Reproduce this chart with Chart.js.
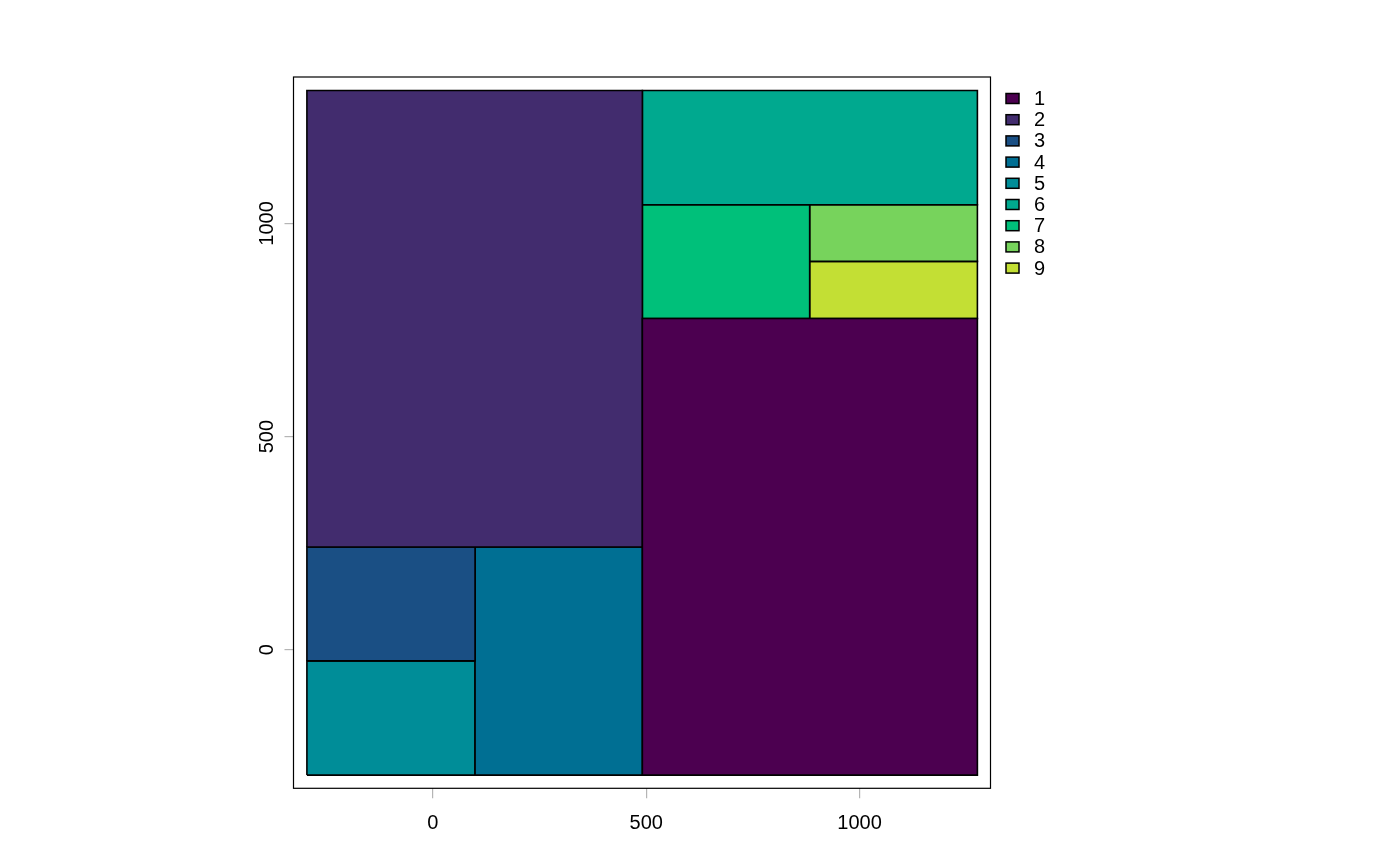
<!DOCTYPE html>
<html>
<head>
<meta charset="utf-8">
<script src="https://cdn.jsdelivr.net/npm/chart.js@4/dist/chart.umd.min.js"></script>
<style>
  html, body { margin: 0; padding: 0; background: #ffffff; }
  #wrap { width: 1400px; height: 866px; position: relative; }
</style>
</head>
<body>
<div id="wrap"><canvas id="c"></canvas></div>
<script>
// ---- data ----
const categories = ['1', '2', '3', '4', '5', '6', '7', '8', '9'];
const xStart = [491, -295, -295, 99, -295, 491, 491, 883, 883];
const xEnd   = [1276, 491, 99, 491, 99, 1276, 883, 1276, 1276];
const yStart = [-294, 241, -26, -294, -294, 1044, 777, 911, 777];
const yEnd   = [777, 1312, 241, 241, -26, 1312, 1044, 1044, 911];
const fillColors = ['#4C0050', '#422C6E', '#1A4F84', '#006F93', '#008D98',
                    '#00A98F', '#00C07A', '#77D35C', '#C3DF34'];
const xTickValues = [0, 500, 1000];
const yTickValues = [0, 500, 1000];
const xRange = [-326.4, 1306.7];
const yRange = [-325, 1343.5];

const FONT = '"Liberation Sans", Arial, Helvetica, sans-serif';

const datasets = categories.map((c, i) => ({
  label: c,
  data: [
    { x: xStart[i], y: yStart[i] },
    { x: xEnd[i],   y: yStart[i] },
    { x: xEnd[i],   y: yEnd[i] },
    { x: xStart[i], y: yEnd[i] },
    { x: xStart[i], y: yStart[i] }
  ],
  showLine: true,
  fill: 'shape',
  backgroundColor: fillColors[i],
  borderColor: '#000000',
  borderWidth: 1.6,
  pointRadius: 0,
  pointHoverRadius: 0,
  tension: 0
}));

const boxPlugin = {
  id: 'plotBox',
  beforeDatasetsDraw(chart) {
    const a = chart.chartArea, ctx = chart.ctx;
    ctx.save();
    ctx.strokeStyle = '#000000';
    ctx.lineWidth = 1.2;
    ctx.strokeRect(a.left, a.top, a.right - a.left, a.bottom - a.top);
    ctx.restore();
  }
};

const legendPlugin = {
  id: 'sideLegend',
  afterDraw(chart) {
    const ctx = chart.ctx;
    ctx.save();
    ctx.font = '20px ' + FONT;
    ctx.textBaseline = 'middle';
    ctx.textAlign = 'left';
    chart.data.datasets.forEach((ds, i) => {
      const cy = 98.5 + i * 21.2;
      ctx.fillStyle = ds.backgroundColor;
      ctx.fillRect(1006, cy - 5, 13, 10);
      ctx.strokeStyle = '#000000';
      ctx.lineWidth = 1.5;
      ctx.strokeRect(1006, cy - 5, 13, 10);
      ctx.fillStyle = '#000000';
      ctx.fillText(ds.label, 1034, cy + 1);
    });
    ctx.restore();
  }
};

new Chart(document.getElementById('c'), {
  type: 'scatter',
  data: { datasets },
  options: {
    responsive: true,
    maintainAspectRatio: false,
    animation: false,
    layout: { padding: { left: 233.5, right: 409.5, top: 77, bottom: 17.7 } },
    plugins: {
      legend: { display: false },
      tooltip: { enabled: false }
    },
    scales: {
      x: {
        type: 'linear',
        min: xRange[0],
        max: xRange[1],
        afterBuildTicks: (s) => { s.ticks = xTickValues.map(v => ({ value: v })); },
        afterFit: (s) => { s.height = 60; },
        border: { display: false },
        grid: { drawOnChartArea: false, drawTicks: true, tickLength: 10, color: '#b5b5b5', lineWidth: 1.2 },
        ticks: { color: '#000000', font: { size: 20, family: FONT }, padding: 13, maxRotation: 0, minRotation: 0,
                 callback: (v) => String(v) }
      },
      y: {
        type: 'linear',
        min: yRange[0],
        max: yRange[1],
        afterBuildTicks: (s) => { s.ticks = yTickValues.map(v => ({ value: v })); },
        afterFit: (s) => { s.width = 60; },
        border: { display: false },
        grid: { drawOnChartArea: false, drawTicks: true, tickLength: 9, color: '#b5b5b5', lineWidth: 1.2 },
        ticks: { color: '#000000', font: { size: 20, family: FONT }, padding: -5,
                 minRotation: 90, maxRotation: 90, crossAlign: 'center',
                 callback: (v) => String(v) }
      }
    }
  },
  plugins: [boxPlugin, legendPlugin]
});
</script>
</body>
</html>
